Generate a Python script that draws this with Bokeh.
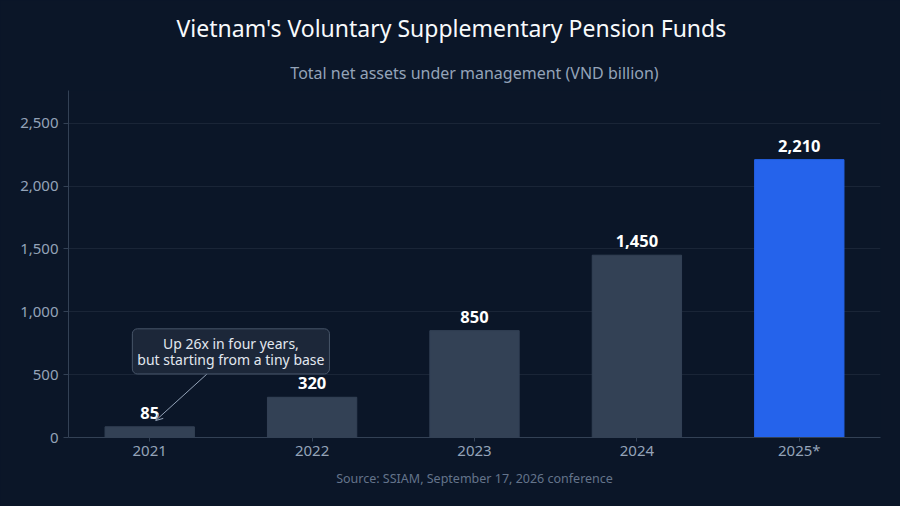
from bokeh.plotting import figure
from bokeh.models import ColumnDataSource, FactorRange, Range1d, Title, Label, Arrow, OpenHead, NumeralTickFormatter, FixedTicker
from bokeh.embed import file_html
from bokeh.resources import INLINE

years = ["2021", "2022", "2023", "2024", "2025*"]
assets = [85, 320, 850, 1450, 2210]
labels = ["85", "320", "850", "1,450", "2,210"]
colors = ["#334155", "#334155", "#334155", "#334155", "#2563eb"]

BG = "#0b1628"
FONT = "Noto Sans"

src = ColumnDataSource(dict(year=years, assets=assets, label=labels, color=colors))

p = figure(
    x_range=FactorRange(*years), y_range=Range1d(0, 2760),
    width=900, height=506, output_backend="svg", toolbar_location=None,
    min_border_left=68, min_border_right=20, min_border_top=90, min_border_bottom=69,
    background_fill_color=BG, border_fill_color=BG,
)
p.outline_line_color = None
p.styles = {"background-color": BG}

p.title.text = "Vietnam's Voluntary Supplementary Pension Funds"
p.title.align = "left"
p.title.offset = 108  # centred on the page rather than on the frame
p.title.text_color = "#f8fafc"
p.title.text_font = FONT
p.title.text_font_size = "23px"
p.title.text_font_style = "normal"
p.title.standoff = 17

p.add_layout(Title(text="Total net assets under management (VND billion)", align="center",
                   text_color="#94a3b8", text_font=FONT, text_font_size="16px",
                   text_font_style="normal", standoff=14), "above")
p.add_layout(Title(text="Source: SSIAM, September 17, 2026 conference", align="center",
                   text_color="#64748b", text_font=FONT, text_font_size="12.5px",
                   text_font_style="normal"), "below")

p.vbar(x="year", top="assets", width=0.55, color="color", source=src)
p.text(x="year", y="assets", text="label", source=src, text_align="center",
       text_baseline="bottom", y_offset=-8, text_color="#ffffff",
       text_font={"value": FONT}, text_font_size="16.5px", text_font_style="bold")

p.yaxis.ticker = FixedTicker(ticks=[0, 500, 1000, 1500, 2000, 2500])
p.yaxis.formatter = NumeralTickFormatter(format="0,0")
for ax in (p.xaxis, p.yaxis):
    ax.axis_line_color = "#334155"
    ax.major_tick_line_color = "#334155"
    ax.minor_tick_line_color = None
    ax.major_label_text_color = "#94a3b8"
    ax.major_label_text_font = FONT
    ax.major_label_text_font_size = "15px"
    ax.major_tick_in = 0
    ax.major_tick_out = 5
p.xaxis.major_tick_out = 4
p.xaxis.major_label_standoff = -2
p.xgrid.grid_line_color = None
p.ygrid.grid_line_color = "#1e293b"
p.ygrid.grid_line_alpha = 0.8

p.add_layout(Arrow(x_start=0.856, y_start=509, x_end=0.537, y_end=135,
                   line_color="#94a3b8", line_width=1,
                   end=OpenHead(size=7, line_color="#94a3b8", line_width=1)))
p.add_layout(Label(x=1.0, y=685, text="Up 26x in four years,\nbut starting from a tiny base",
                   text_align="center", text_baseline="middle", text_color="#e2e8f0",
                   text_font=FONT, text_font_size="14px", text_line_height=0.85,
                   background_fill_color="#1e293b", background_fill_alpha=0.9,
                   border_line_color="#475569", border_line_width=1,
                   padding=5, border_radius=5))

open("out.html", "w").write(file_html(p, INLINE))
